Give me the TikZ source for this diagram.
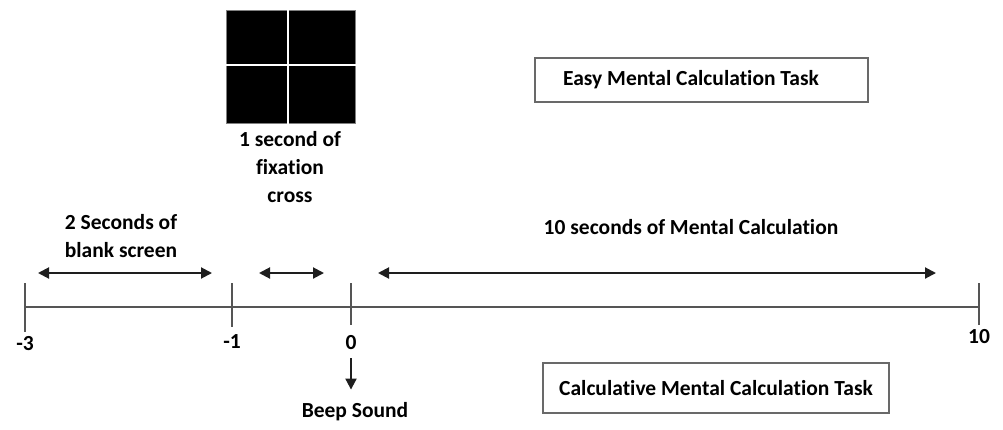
\documentclass[tikz,border=0pt]{standalone}
\usepackage{fontspec}
\setmainfont[Ligatures=NoCommon]{Carlito}
\usetikzlibrary{arrows.meta,positioning}
\definecolor{axisgray}{RGB}{85,85,85}
\definecolor{boxgray}{RGB}{105,105,105}
\definecolor{arrowblack}{RGB}{30,30,30}

\begin{document}
\begin{tikzpicture}[x=1pt, y=-1pt,
    axis/.style={draw=axisgray, line width=2pt},
    tickmark/.style={draw=axisgray, line width=2pt},
    span/.style={{Triangle[length=11pt,width=11pt]}-{Triangle[length=11pt,width=11pt]}, line width=2pt, draw=arrowblack, fill=arrowblack},
    pointer/.style={-{Triangle[length=11pt,width=11pt]}, line width=2pt, draw=arrowblack, fill=arrowblack},
    lbl/.style={font=\bfseries\fontsize{21.5}{28}\selectfont, align=center, inner sep=0pt},
    num/.style={font=\bfseries\fontsize{21.5}{28}\selectfont, inner sep=0pt},
    taskbox/.style={draw=boxgray, line width=1.5pt, minimum height=#1, inner sep=0pt, font=\bfseries\fontsize{21.5}{28}\selectfont}
  ]
    \useasboundingbox (0,0) rectangle (1003,429);

    % Fixation cross
    \node[draw=gray, line width=1pt, fill=black, minimum width=129pt, minimum height=113pt, inner sep=0pt] (cross) at (290.5,66.5) {};
    \draw[white, line width=2pt] ([xshift=-2.5pt]cross.north) -- ([xshift=-2.5pt]cross.south);
    \draw[white, line width=2pt] ([yshift=1.5pt]cross.west) -- ([yshift=1.5pt]cross.east);
    \node[lbl] (fixtxt) at (290,167) {1 second of\\fixation\\cross};

    % Task boxes
    \node[taskbox=44pt, minimum width=333pt] (easy) at (701.5,80) {\hspace*{-21pt}Easy Mental Calculation Task};
    \node[taskbox=50pt, minimum width=346pt] (calc) at (716,388) {Calculative Mental Calculation Task};

    % Timeline
    \coordinate (tm3) at (25,307);
    \coordinate (tm1) at (232,307);
    \coordinate (t0) at (351,307);
    \coordinate (t10) at (979,307);
    \draw[axis] (tm3) -- (t10);
    \foreach \t/\lo in {tm3/25, tm1/20, t0/18, t10/18}
      \draw[tickmark] ([yshift=24pt]\t) -- ([yshift=-\lo pt]\t);

    \node[num] (lm3) at (25,344) {-3};
    \node[num] (lm1) at (232,342) {-1};
    \node[num] (l0) at (351,343) {0};
    \node[num] (l10) at (979,337) {10};

    % Intervals
    \coordinate (blankL) at (38,273);
    \coordinate (blankR) at (212,273);
    \coordinate (fixL) at (259,273);
    \coordinate (fixR) at (324,273);
    \coordinate (calcL) at (378,273);
    \coordinate (calcR) at (936,273);
    \draw[span] (blankL) -- (blankR);
    \draw[span] (fixL) -- (fixR);
    \draw[span] (calcL) -- (calcR);

    \node[lbl] (blanktxt) at (121,236) {2 Seconds of\\blank screen};
    \node[lbl] (calctxt) at (691,227) {10 seconds of Mental Calculation};

    % Beep
    \node[lbl] (beep) at (355,412) {Beep Sound};
    \draw[pointer, shorten <=8pt, shorten >=13pt] (l0.south) -- (l0.south |- beep.north);
  \end{tikzpicture}
\end{document}
